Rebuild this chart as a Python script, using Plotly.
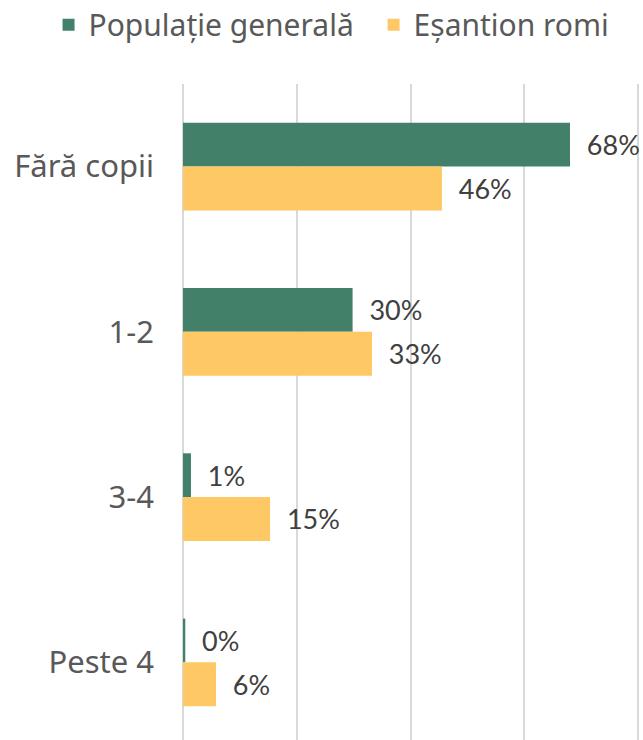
import plotly.graph_objects as go

categories = ["Fără copii", "1-2", "3-4", "Peste 4"]
series_names = ["Populație generală", "Eșantion romi"]
populatie_generala = [68, 29.8, 1.4, 0.4]
esantion_romi = [45.5, 33.2, 15.3, 5.8]
colors = ["#43806A", "#FEC864"]
legend_ids = ["legend", "legend2"]

fig = go.Figure()
for name, vals, col, lg in zip(series_names, [populatie_generala, esantion_romi], colors, legend_ids):
    fig.add_trace(go.Bar(
        y=categories, x=vals, name=name, orientation="h",
        marker=dict(color=col, line=dict(width=0)),
        texttemplate="  %{x:.0f}%", textposition="outside",
        textfont=dict(family="Lato", size=27, color="#404040"),
        cliponaxis=False, legend=lg,
    ))

leg_common = dict(orientation="h", xref="container", xanchor="left",
                  yref="paper", y=1.13, yanchor="top",
                  font=dict(size=30, color="#595959"),
                  itemsizing="constant", itemwidth=30)

fig.update_layout(
    width=643, height=740,
    margin=dict(l=183, r=3, t=84, b=0, autoexpand=False),
    paper_bgcolor="white", plot_bgcolor="white",
    barmode="group", bargap=0.47, bargroupgap=0,
    font=dict(family="Noto Sans", color="#595959"),
    legend=dict(x=0.0755, **leg_common),
    legend2=dict(x=0.581, **leg_common),
    showlegend=True,
)
fig.update_xaxes(range=[0, 80.3], showgrid=True, gridcolor="#D9D9D9", gridwidth=2,
                 dtick=20, showticklabels=False, zeroline=True, zerolinecolor="#D9D9D9",
                 zerolinewidth=2, showline=False)
fig.update_yaxes(categoryorder="array", categoryarray=categories, range=[3.47, -0.5],
                 tickfont=dict(size=31, color="#595959"), ticklabelstandoff=28,
                 showline=False, showgrid=False, automargin=False)

fig.write_html("out.html", config={"displayModeBar": False},
               post_script="document.body.style.margin='0';")
